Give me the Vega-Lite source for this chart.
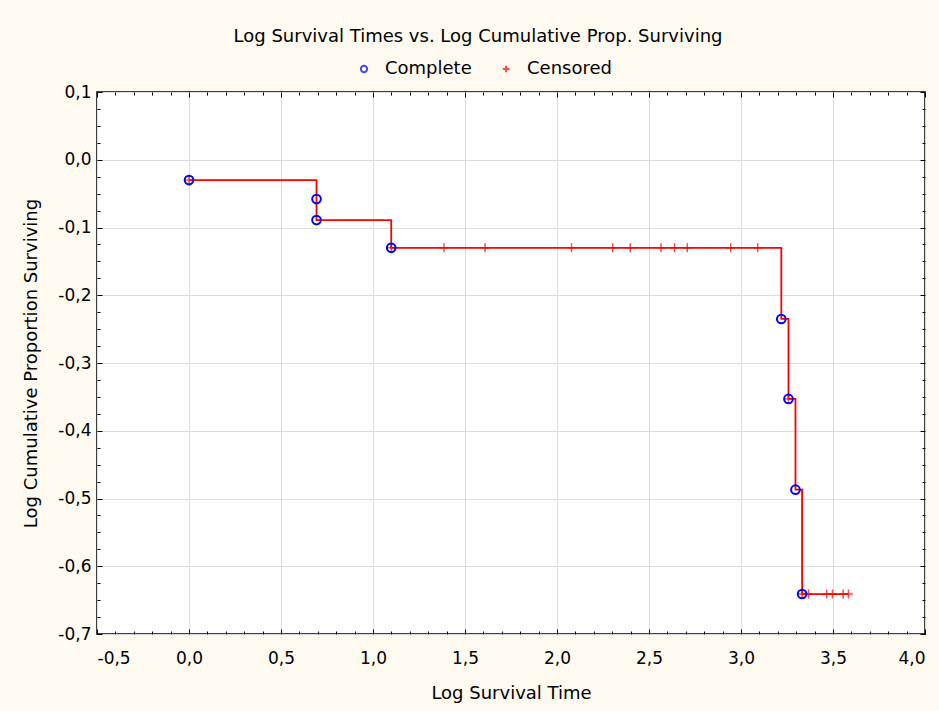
{
  "$schema": "https://vega.github.io/schema/vega-lite/v6.json",
  "width": 828,
  "height": 542,
  "autosize": {"type": "none"},
  "padding": {"left": 97, "top": 92, "right": 14, "bottom": 77},
  "background": "#fffaf0",
  "config": {
    "locale": {"number": {"decimal": ",", "thousands": ".", "grouping": [3], "currency": ["", ""], "minus": "-"}},
    "view": {"fill": "white", "stroke": "black", "strokeWidth": 1.5},
    "font": "DejaVu Sans",
    "axis": {"labelFont": "DejaVu Sans", "labelFontSize": 17, "labelColor": "black", "titleFont": "DejaVu Sans", "titleFontSize": 18, "titleFontWeight": "normal", "titleColor": "black", "domain": false, "tickColor": "black", "gridColor": "#dcdcdc", "gridWidth": 1}
  },
  "title": {"text": "Log Survival Times vs. Log Cumulative Prop. Surviving", "font": "DejaVu Sans", "fontSize": 18, "fontWeight": "normal", "color": "black", "anchor": "middle", "frame": "group", "offset": 14, "dx": -33},
  "datasets": {
    "line": [
      {"t": 0, "s": -0.030},
      {"t": 0.693, "s": -0.089},
      {"t": 1.099, "s": -0.130},
      {"t": 3.219, "s": -0.235},
      {"t": 3.258, "s": -0.353},
      {"t": 3.296, "s": -0.487},
      {"t": 3.332, "s": -0.641},
      {"t": 3.584, "s": -0.641}
    ],
    "complete": [
      {"t": 0, "s": -0.030, "type": "Complete"},
      {"t": 0.693, "s": -0.058, "type": "Complete"},
      {"t": 0.693, "s": -0.089, "type": "Complete"},
      {"t": 1.099, "s": -0.130, "type": "Complete"},
      {"t": 3.219, "s": -0.235, "type": "Complete"},
      {"t": 3.258, "s": -0.353, "type": "Complete"},
      {"t": 3.296, "s": -0.487, "type": "Complete"},
      {"t": 3.332, "s": -0.641, "type": "Complete"}
    ],
    "censored": [
      {"t": 0, "s": -0.030, "type": "Censored"},
      {"t": 1.099, "s": -0.130, "type": "Censored"},
      {"t": 1.386, "s": -0.130, "type": "Censored"},
      {"t": 1.609, "s": -0.130, "type": "Censored"},
      {"t": 2.079, "s": -0.130, "type": "Censored"},
      {"t": 2.303, "s": -0.130, "type": "Censored"},
      {"t": 2.398, "s": -0.130, "type": "Censored"},
      {"t": 2.565, "s": -0.130, "type": "Censored"},
      {"t": 2.639, "s": -0.130, "type": "Censored"},
      {"t": 2.708, "s": -0.130, "type": "Censored"},
      {"t": 2.944, "s": -0.130, "type": "Censored"},
      {"t": 3.091, "s": -0.130, "type": "Censored"},
      {"t": 3.258, "s": -0.353, "type": "Censored"},
      {"t": 3.332, "s": -0.641, "type": "Censored"},
      {"t": 3.367, "s": -0.641, "type": "Censored"},
      {"t": 3.466, "s": -0.641, "type": "Censored"},
      {"t": 3.497, "s": -0.641, "type": "Censored"},
      {"t": 3.555, "s": -0.641, "type": "Censored"},
      {"t": 3.584, "s": -0.641, "type": "Censored"}
    ]
  },
  "layer": [
    {
      "data": {"name": "line"},
      "mark": {"type": "line", "interpolate": "step-after", "color": "#ff0000", "strokeWidth": 1.8},
      "encoding": {
        "x": {"field": "t", "type": "quantitative", "scale": {"domain": [-0.5, 4], "nice": false, "zero": false},
          "axis": {"orient": "bottom", "values": [-0.5, 0, 0.5, 1, 1.5, 2, 2.5, 3, 3.5, 4], "format": ".1f", "grid": true, "tickSize": -5, "labelPadding": 21, "title": "Log Survival Time", "titlePadding": 18}},
        "y": {"field": "s", "type": "quantitative", "scale": {"domain": [-0.7, 0.1], "nice": false, "zero": false},
          "axis": {"orient": "left", "values": [-0.7, -0.6, -0.5, -0.4, -0.3, -0.2, -0.1, 0, 0.1], "format": ".1f", "grid": true, "tickSize": -5, "labelPadding": 11, "title": "Log Cumulative Proportion Surviving", "titlePadding": 17}}
      }
    },
    {
      "data": {"name": "censored"},
      "mark": {"type": "point", "filled": false, "size": 81, "strokeWidth": 1.5},
      "encoding": {
        "x": {"field": "t", "type": "quantitative", "scale": {"domain": [-0.5, 4], "nice": false, "zero": false},
          "axis": {"orient": "top", "values": [-0.5, 0, 0.5, 1, 1.5, 2, 2.5, 3, 3.5, 4], "labels": false, "grid": false, "tickSize": -5, "title": null}},
        "y": {"field": "s", "type": "quantitative", "scale": {"domain": [-0.7, 0.1], "nice": false, "zero": false},
          "axis": {"orient": "right", "values": [-0.7, -0.6, -0.5, -0.4, -0.3, -0.2, -0.1, 0, 0.1], "labels": false, "grid": false, "tickSize": -5, "title": null}},
        "color": {"field": "type", "type": "nominal", "scale": {"domain": ["Complete", "Censored"], "range": ["#0000ff", "#ff0000"]}, "legend": {"title": null, "orient": "none", "legendX": 258, "legendY": -32, "direction": "horizontal", "labelFont": "DejaVu Sans", "labelFontSize": 18, "labelColor": "black", "symbolSize": 40, "symbolStrokeWidth": 2, "columnPadding": 25, "labelOffset": 12}},
        "shape": {"field": "type", "type": "nominal", "scale": {"domain": ["Complete", "Censored"], "range": ["circle", "M-1,0H1M0,-1V1"]}}
      }
    },
    {
      "data": {"name": "complete"},
      "mark": {"type": "point", "filled": false, "size": 75, "strokeWidth": 2, "opacity": 1},
      "encoding": {
        "x": {"field": "t", "type": "quantitative", "scale": {"domain": [-0.5, 4], "nice": false, "zero": false},
          "axis": {"orient": "bottom", "values": [-0.4, -0.3, -0.2, -0.1, 0.1, 0.2, 0.3, 0.4, 0.6, 0.7, 0.8, 0.9, 1.1, 1.2, 1.3, 1.4, 1.6, 1.7, 1.8, 1.9, 2.1, 2.2, 2.3, 2.4, 2.6, 2.7, 2.8, 2.9, 3.1, 3.2, 3.3, 3.4, 3.6, 3.7, 3.8, 3.9], "labels": false, "grid": false, "tickSize": -3, "title": null}},
        "y": {"field": "s", "type": "quantitative", "scale": {"domain": [-0.7, 0.1], "nice": false, "zero": false},
          "axis": {"orient": "left", "values": [-0.675, -0.65, -0.625, -0.575, -0.55, -0.525, -0.475, -0.45, -0.425, -0.375, -0.35, -0.325, -0.275, -0.25, -0.225, -0.175, -0.15, -0.125, -0.075, -0.05, -0.025, 0.025, 0.05, 0.075], "labels": false, "grid": false, "tickSize": -3, "title": null}},
        "color": {"field": "type", "type": "nominal", "scale": {"domain": ["Complete", "Censored"], "range": ["#0000ff", "#ff0000"]}},
        "shape": {"field": "type", "type": "nominal", "scale": {"domain": ["Complete", "Censored"], "range": ["circle", "M-1,0H1M0,-1V1"]}}
      }
    },
    {
      "data": {"name": "complete"},
      "mark": {"type": "point", "opacity": 0},
      "encoding": {
        "x": {"field": "t", "type": "quantitative", "scale": {"domain": [-0.5, 4], "nice": false, "zero": false},
          "axis": {"orient": "top", "values": [-0.4, -0.3, -0.2, -0.1, 0.1, 0.2, 0.3, 0.4, 0.6, 0.7, 0.8, 0.9, 1.1, 1.2, 1.3, 1.4, 1.6, 1.7, 1.8, 1.9, 2.1, 2.2, 2.3, 2.4, 2.6, 2.7, 2.8, 2.9, 3.1, 3.2, 3.3, 3.4, 3.6, 3.7, 3.8, 3.9], "labels": false, "grid": false, "tickSize": -3, "title": null}},
        "y": {"field": "s", "type": "quantitative", "scale": {"domain": [-0.7, 0.1], "nice": false, "zero": false},
          "axis": {"orient": "right", "values": [-0.675, -0.65, -0.625, -0.575, -0.55, -0.525, -0.475, -0.45, -0.425, -0.375, -0.35, -0.325, -0.275, -0.25, -0.225, -0.175, -0.15, -0.125, -0.075, -0.05, -0.025, 0.025, 0.05, 0.075], "labels": false, "grid": false, "tickSize": -3, "title": null}}
      }
    }
  ],
  "resolve": {"axis": {"x": "independent", "y": "independent"}}
}
